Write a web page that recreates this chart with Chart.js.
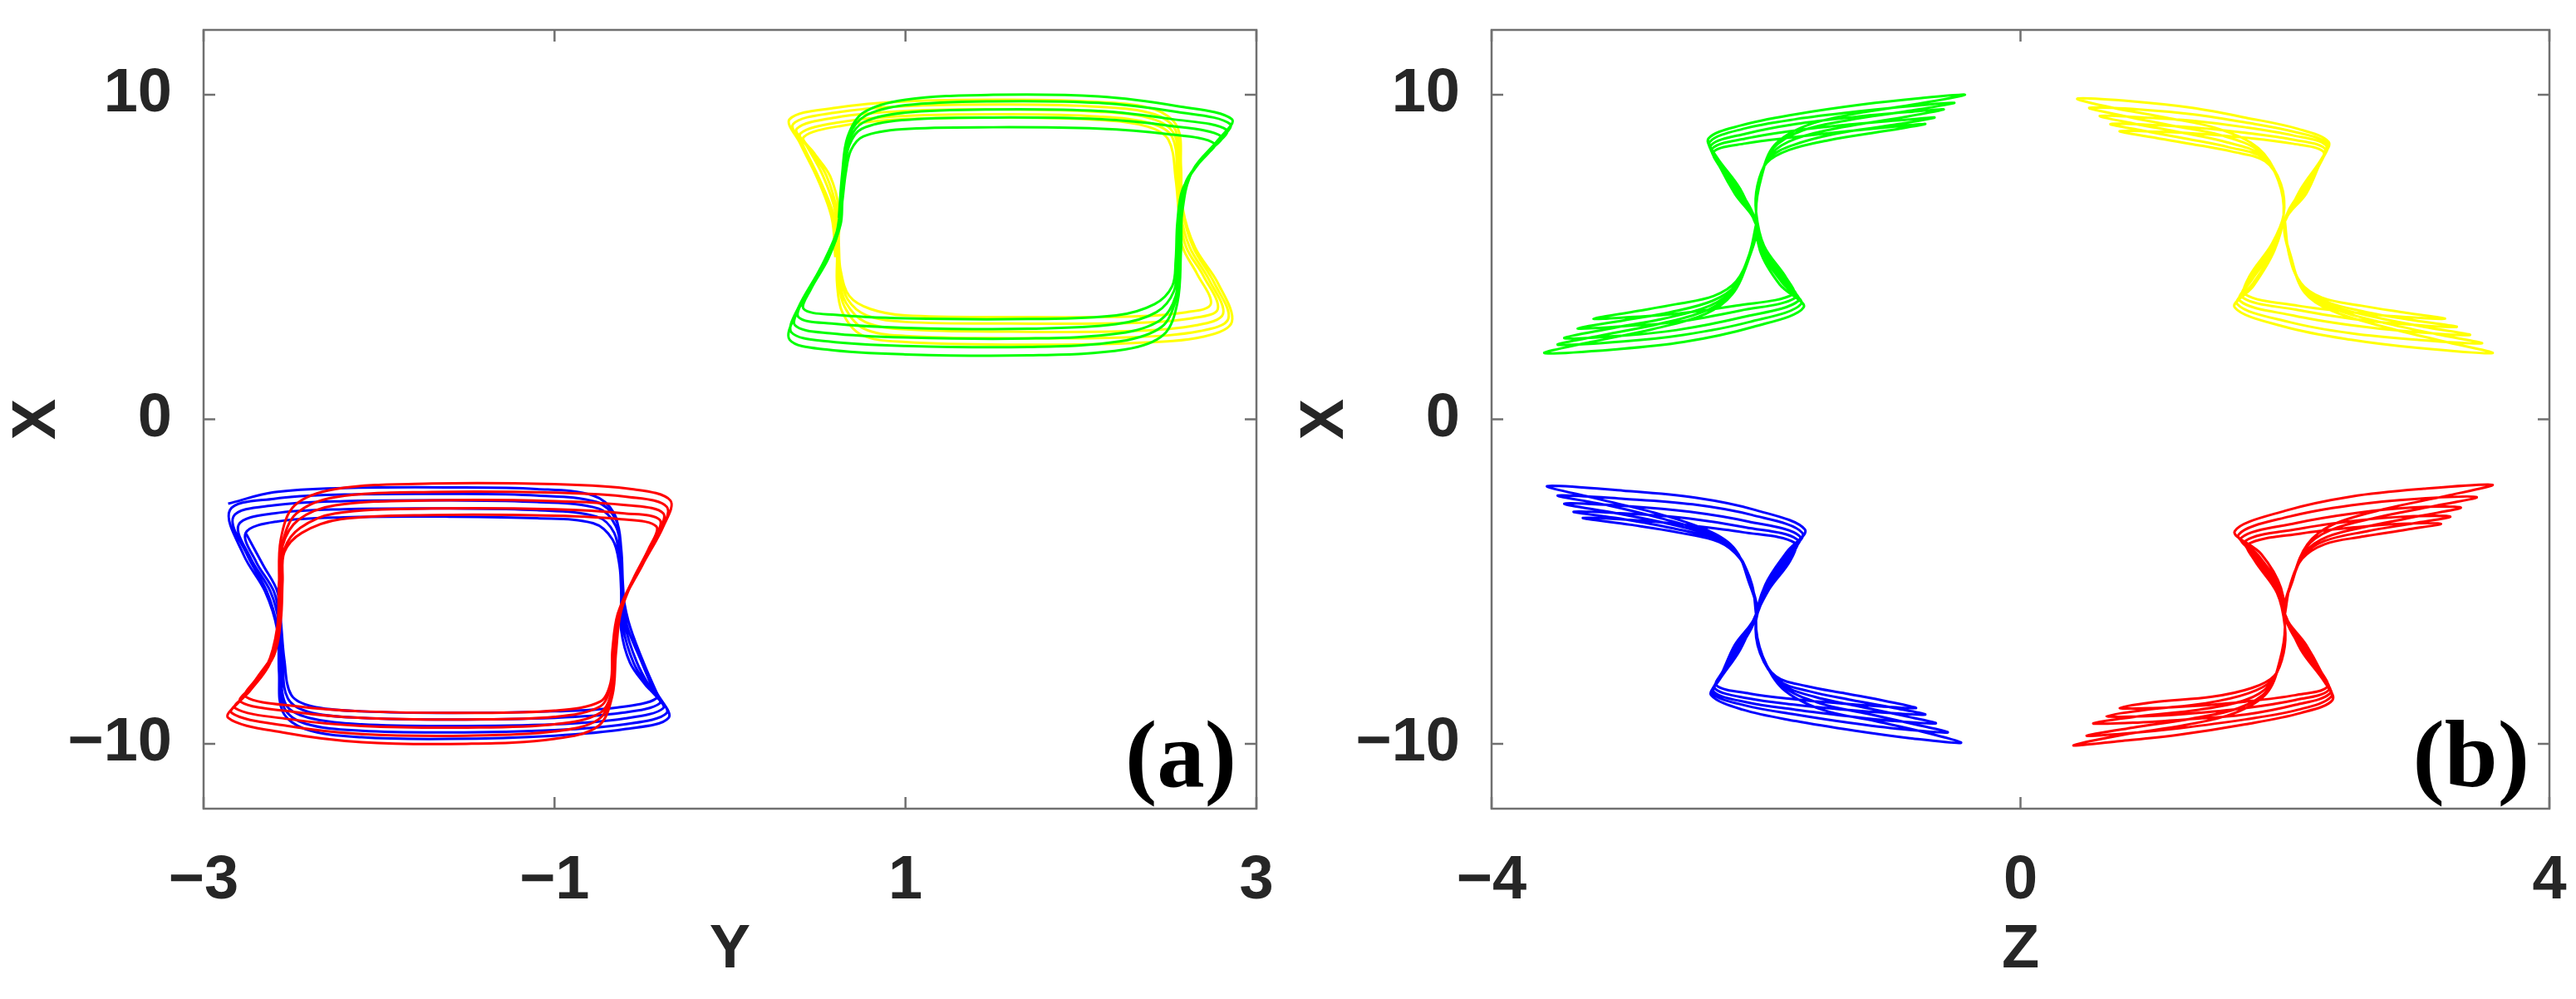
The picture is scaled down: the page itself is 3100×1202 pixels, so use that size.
<!DOCTYPE html>
<html>
<head>
<meta charset="utf-8">
<script src="https://cdn.jsdelivr.net/npm/chart.js@4.4.1/dist/chart.umd.min.js"></script>
<style>
  html, body { margin: 0; padding: 0; background: #fff; }
  #wrap { position: relative; width: 3100px; height: 1202px; }
  .panel { position: absolute; top: 0; width: 1550px; height: 1202px; }
</style>
</head>
<body>
<div id="wrap">
  <div class="panel" style="left:0"><canvas id="chartA" width="1550" height="1202"></canvas></div>
  <div class="panel" style="left:1550px"><canvas id="chartB" width="1550" height="1202"></canvas></div>
</div>
<script>
// tick values
const yTicksA = [-3, -1, 1, 3];
const zTicksB = [-4, 0, 4];
const xTicks = [-10, 0, 10];

// panel (a): pairs are [Y, X], one row per loop of the trajectory
const aGreen = [
  [0.62,6.2],[0.64,7.6],[0.67,8.7],[0.76,9.45],[1.0,9.85],[1.5,10.0],[2.1,9.95],[2.55,9.65],[2.86,9.25],[2.78,8.6],[2.64,7.7],[2.58,6.6],[2.57,5.2],[2.55,3.6],[2.47,2.6],[2.25,2.15],[1.7,1.97],[1.0,2.0],[0.55,2.15],[0.34,2.45],[0.38,3.3],[0.5,4.5],[0.6,5.6],
  [0.63,6.6],[0.65,7.8],[0.68,8.75],[0.77,9.35],[1.0,9.68],[1.5,9.8],[2.1,9.75],[2.55,9.47],[2.85,9.1],[2.77,8.5],[2.63,7.6],[2.58,6.5],[2.56,5.1],[2.54,3.7],[2.46,2.85],[2.22,2.4],[1.7,2.23],[1.0,2.26],[0.56,2.4],[0.35,2.68],[0.39,3.45],[0.51,4.6],[0.61,5.7],
  [0.63,6.6],[0.65,7.7],[0.68,8.6],[0.76,9.15],[1.0,9.45],[1.5,9.55],[2.1,9.5],[2.52,9.25],[2.83,8.92],[2.75,8.35],[2.62,7.5],[2.57,6.4],[2.56,5.0],[2.54,3.8],[2.45,3.05],[2.22,2.65],[1.7,2.49],[1.0,2.52],[0.57,2.65],[0.37,2.9],[0.41,3.6],[0.52,4.7],[0.61,5.8],
  [0.63,6.6],[0.65,7.6],[0.68,8.45],[0.75,8.95],[0.98,9.22],[1.5,9.3],[2.1,9.25],[2.5,9.05],[2.8,8.72],[2.72,8.2],[2.6,7.35],[2.56,6.3],[2.55,4.9],[2.53,3.95],[2.43,3.3],[2.2,2.93],[1.7,2.79],[1.0,2.82],[0.58,2.95],[0.39,3.15],[0.43,3.8],[0.54,4.8],[0.62,5.9],
  [0.64,6.7],[0.66,7.6],[0.69,8.3],[0.76,8.72],[0.98,8.94],[1.5,9.0],[2.1,8.96],[2.48,8.8],[2.76,8.5],[2.68,7.95],[2.58,7.1],[2.55,6.1],[2.54,4.9],[2.52,4.1],[2.42,3.55],[2.2,3.2],[1.7,3.09],[1.0,3.11],[0.6,3.22],[0.42,3.4],[0.46,4.0],[0.56,4.95],[0.63,6.0],[0.64,6.7]
];

const aYellow = [
  [0.6,5.0],[0.58,6.2],[0.5,7.4],[0.4,8.5],[0.34,9.25],[0.6,9.6],[1.0,9.8],[1.6,9.85],[2.1,9.78],[2.42,9.55],[2.55,9.0],[2.57,7.8],[2.58,6.5],[2.65,5.3],[2.78,4.2],[2.86,3.0],[2.7,2.55],[2.3,2.35],[1.6,2.3],[1.0,2.38],[0.75,2.6],[0.64,3.3],[0.61,4.2],
  [0.61,5.2],[0.59,6.3],[0.51,7.4],[0.42,8.4],[0.36,9.1],[0.6,9.45],[1.0,9.65],[1.6,9.7],[2.1,9.63],[2.42,9.4],[2.54,8.9],[2.56,7.7],[2.58,6.4],[2.64,5.3],[2.76,4.2],[2.84,3.1],[2.68,2.72],[2.3,2.53],[1.6,2.5],[1.0,2.57],[0.76,2.8],[0.65,3.5],[0.62,4.3],
  [0.61,5.3],[0.6,6.4],[0.53,7.5],[0.44,8.4],[0.38,8.95],[0.6,9.3],[1.0,9.5],[1.6,9.55],[2.1,9.48],[2.4,9.27],[2.53,8.8],[2.56,7.6],[2.57,6.3],[2.62,5.3],[2.73,4.3],[2.81,3.25],[2.66,2.9],[2.3,2.72],[1.6,2.7],[1.0,2.77],[0.77,3.0],[0.66,3.6],[0.62,4.4],
  [0.62,5.3],[0.61,6.4],[0.55,7.5],[0.46,8.3],[0.4,8.8],[0.62,9.15],[1.0,9.35],[1.6,9.4],[2.1,9.33],[2.4,9.12],[2.52,8.7],[2.55,7.5],[2.56,6.3],[2.6,5.3],[2.7,4.4],[2.78,3.4],[2.64,3.12],[2.3,2.97],[1.6,2.95],[1.0,3.0],[0.78,3.2],[0.67,3.7],[0.63,4.5],
  [0.62,5.4],[0.62,6.5],[0.57,7.5],[0.48,8.2],[0.42,8.7],[0.64,9.05],[1.0,9.25],[1.6,9.3],[2.1,9.23],[2.38,9.02],[2.5,8.6],[2.54,7.4],[2.56,6.2],[2.58,5.3],[2.66,4.5],[2.74,3.55],[2.6,3.3],[2.3,3.17],[1.6,3.15],[1.0,3.2],[0.8,3.4],[0.68,3.8],[0.63,4.6],[0.62,5.4]
];

const aRed = [
  [-2.57,-5.2],[-2.56,-3.7],[-2.48,-2.65],[-2.25,-2.15],[-1.7,-1.98],[-1.0,-2.0],[-0.56,-2.15],[-0.34,-2.5],[-0.38,-3.3],[-0.5,-4.5],[-0.62,-5.8],[-0.65,-7.2],[-0.67,-8.5],[-0.75,-9.45],[-1.0,-9.85],[-1.5,-10.0],[-2.1,-9.95],[-2.55,-9.65],[-2.86,-9.2],[-2.78,-8.6],[-2.64,-7.6],[-2.58,-6.4],
  [-2.57,-5.0],[-2.55,-3.8],[-2.47,-2.9],[-2.25,-2.4],[-1.7,-2.24],[-1.0,-2.26],[-0.57,-2.4],[-0.36,-2.7],[-0.4,-3.5],[-0.52,-4.6],[-0.62,-5.9],[-0.65,-7.2],[-0.67,-8.4],[-0.75,-9.25],[-1.0,-9.62],[-1.5,-9.75],[-2.1,-9.7],[-2.52,-9.45],[-2.84,-9.05],[-2.76,-8.5],[-2.63,-7.6],[-2.58,-6.4],
  [-2.56,-5.0],[-2.55,-3.9],[-2.46,-3.1],[-2.25,-2.65],[-1.7,-2.5],[-1.0,-2.52],[-0.58,-2.65],[-0.38,-2.9],[-0.42,-3.6],[-0.53,-4.7],[-0.62,-5.9],[-0.65,-7.1],[-0.67,-8.3],[-0.74,-9.05],[-1.0,-9.4],[-1.5,-9.5],[-2.1,-9.45],[-2.5,-9.25],[-2.82,-8.9],[-2.74,-8.4],[-2.62,-7.5],[-2.57,-6.3],
  [-2.56,-5.0],[-2.54,-4.0],[-2.45,-3.35],[-2.25,-2.9],[-1.7,-2.75],[-1.0,-2.77],[-0.6,-2.9],[-0.4,-3.1],[-0.44,-3.8],[-0.54,-4.8],[-0.63,-6.0],[-0.66,-7.1],[-0.68,-8.2],[-0.74,-8.85],[-1.0,-9.17],[-1.5,-9.25],[-2.1,-9.2],[-2.48,-9.02],[-2.79,-8.7],[-2.72,-8.2],[-2.6,-7.3],[-2.56,-6.2],
  [-2.55,-5.0],[-2.54,-4.1],[-2.44,-3.5],[-2.22,-3.08],[-1.7,-2.95],[-1.0,-2.97],[-0.62,-3.08],[-0.42,-3.3],[-0.46,-3.95],[-0.55,-4.9],[-0.64,-6.0],[-0.67,-7.1],[-0.68,-8.1],[-0.74,-8.7],[-1.0,-8.98],[-1.5,-9.05],[-2.1,-9.0],[-2.46,-8.85],[-2.76,-8.55],[-2.7,-8.0],[-2.59,-7.1],[-2.56,-6.1],[-2.55,-5.0]
];

const aBlue = [
  [-2.86,-2.6],[-2.6,-2.25],[-2.2,-2.12],[-1.6,-2.1],[-1.1,-2.15],[-0.78,-2.35],[-0.66,-2.9],[-0.63,-3.8],[-0.62,-5.0],[-0.58,-6.2],[-0.5,-7.4],[-0.42,-8.4],[-0.35,-9.2],[-0.6,-9.55],[-1.0,-9.75],[-1.6,-9.85],[-2.1,-9.8],[-2.42,-9.55],[-2.55,-9.0],[-2.57,-7.8],[-2.58,-6.5],[-2.65,-5.3],[-2.77,-4.2],
  [-2.85,-2.8],[-2.6,-2.45],[-2.2,-2.32],[-1.6,-2.3],[-1.1,-2.35],[-0.76,-2.55],[-0.65,-3.1],[-0.62,-4.0],[-0.61,-5.1],[-0.59,-6.3],[-0.51,-7.4],[-0.43,-8.4],[-0.36,-9.05],[-0.6,-9.4],[-1.0,-9.58],[-1.6,-9.65],[-2.1,-9.6],[-2.42,-9.38],[-2.54,-8.9],[-2.56,-7.7],[-2.58,-6.4],[-2.64,-5.3],[-2.75,-4.2],
  [-2.83,-3.0],[-2.6,-2.65],[-2.2,-2.52],[-1.6,-2.5],[-1.1,-2.55],[-0.75,-2.75],[-0.65,-3.3],[-0.62,-4.2],[-0.61,-5.2],[-0.6,-6.3],[-0.53,-7.5],[-0.44,-8.4],[-0.38,-8.9],[-0.6,-9.22],[-1.0,-9.4],[-1.6,-9.45],[-2.1,-9.4],[-2.4,-9.2],[-2.53,-8.8],[-2.56,-7.6],[-2.57,-6.3],[-2.62,-5.3],[-2.73,-4.3],
  [-2.8,-3.25],[-2.6,-2.9],[-2.2,-2.77],[-1.6,-2.75],[-1.1,-2.8],[-0.76,-3.0],[-0.66,-3.5],[-0.63,-4.4],[-0.62,-5.3],[-0.61,-6.4],[-0.55,-7.5],[-0.46,-8.3],[-0.4,-8.75],[-0.62,-9.05],[-1.0,-9.2],[-1.6,-9.25],[-2.1,-9.2],[-2.4,-9.02],[-2.52,-8.6],[-2.55,-7.5],[-2.56,-6.3],[-2.6,-5.3],[-2.7,-4.4],
  [-2.76,-3.5],[-2.58,-3.15],[-2.2,-3.02],[-1.6,-3.0],[-1.1,-3.05],[-0.78,-3.2],[-0.67,-3.7],[-0.63,-4.5],[-0.62,-5.4],[-0.62,-6.5],[-0.57,-7.5],[-0.48,-8.2],[-0.42,-8.6],[-0.64,-8.88],[-1.0,-9.0],[-1.6,-9.05],[-2.1,-9.0],[-2.38,-8.85],[-2.5,-8.5],[-2.54,-7.4],[-2.56,-6.2],[-2.58,-5.3],[-2.66,-4.5],[-2.76,-3.5]
];

// panel (b): pairs are [Z, X]
const bGreen = [
  [-2.0,6.0],[-2.12,7.1],[-2.3,8.1],[-2.36,8.65],[-2.12,9.05],[-1.7,9.4],[-1.2,9.7],[-0.75,9.9],[-0.42,10.0],[-0.78,9.72],[-1.25,9.42],[-1.62,9.05],[-1.86,8.45],[-1.96,7.5],[-2.0,6.4],[-1.97,5.2],[-1.82,4.15],[-1.64,3.45],[-2.02,2.85],[-2.55,2.38],[-3.05,2.16],[-3.6,2.04],[-3.25,2.38],[-2.78,2.78],[-2.38,3.25],[-2.18,3.85],[-2.06,4.9],
  [-2.0,6.0],[-2.13,7.1],[-2.3,8.05],[-2.35,8.55],[-2.1,8.95],[-1.7,9.25],[-1.2,9.5],[-0.8,9.66],[-0.5,9.75],[-0.85,9.5],[-1.3,9.22],[-1.65,8.9],[-1.87,8.35],[-1.96,7.45],[-2.0,6.4],[-1.96,5.2],[-1.8,4.2],[-1.66,3.55],[-2.05,3.0],[-2.55,2.6],[-3.0,2.4],[-3.5,2.3],[-3.15,2.6],[-2.72,2.95],[-2.36,3.38],[-2.17,3.95],[-2.06,4.95],
  [-2.0,6.0],[-2.14,7.05],[-2.29,7.95],[-2.34,8.45],[-2.08,8.8],[-1.7,9.1],[-1.25,9.32],[-0.85,9.47],[-0.58,9.55],[-0.9,9.3],[-1.35,9.0],[-1.7,8.65],[-1.88,8.2],[-1.97,7.4],[-2.0,6.4],[-1.95,5.25],[-1.79,4.25],[-1.68,3.65],[-2.1,3.15],[-2.6,2.75],[-3.0,2.58],[-3.45,2.5],[-3.1,2.8],[-2.7,3.1],[-2.35,3.5],[-2.16,4.05],[-2.05,5.0],
  [-2.0,6.0],[-2.15,7.0],[-2.28,7.85],[-2.33,8.35],[-2.08,8.65],[-1.7,8.9],[-1.25,9.1],[-0.9,9.22],[-0.65,9.3],[-0.95,9.08],[-1.4,8.8],[-1.72,8.45],[-1.9,8.05],[-1.98,7.3],[-2.0,6.4],[-1.95,5.3],[-1.78,4.3],[-1.7,3.75],[-2.12,3.35],[-2.6,3.0],[-3.0,2.87],[-3.35,2.8],[-3.0,3.05],[-2.65,3.3],[-2.33,3.65],[-2.15,4.15],[-2.05,5.05],
  [-2.0,6.0],[-2.16,6.95],[-2.27,7.75],[-2.32,8.25],[-2.08,8.5],[-1.7,8.7],[-1.3,8.88],[-0.95,9.02],[-0.72,9.1],[-1.0,8.9],[-1.45,8.6],[-1.75,8.3],[-1.92,7.9],[-1.99,7.2],[-2.0,6.4],[-1.94,5.35],[-1.77,4.35],[-1.72,3.85],[-2.15,3.5],[-2.6,3.25],[-2.95,3.15],[-3.23,3.1],[-2.95,3.3],[-2.6,3.55],[-2.32,3.8],[-2.15,4.25],[-2.05,5.1],[-2.0,6.0]
];

const bYellow = [
  [2.0,6.1],[2.12,7.1],[2.28,8.05],[2.33,8.55],[2.1,8.95],[1.7,9.3],[1.3,9.6],[0.85,9.8],[0.43,9.88],[0.7,9.6],[1.1,9.3],[1.5,8.95],[1.8,8.35],[1.95,7.4],[1.99,6.3],[1.92,5.2],[1.76,4.1],[1.62,3.45],[2.0,2.85],[2.5,2.45],[3.0,2.2],[3.57,2.04],[3.2,2.4],[2.75,2.85],[2.35,3.35],[2.15,3.9],[2.05,4.9],
  [2.0,6.1],[2.13,7.1],[2.28,8.0],[2.32,8.5],[2.08,8.85],[1.7,9.15],[1.3,9.4],[0.9,9.55],[0.52,9.6],[0.78,9.35],[1.15,9.05],[1.52,8.75],[1.81,8.25],[1.95,7.35],[1.99,6.3],[1.92,5.25],[1.76,4.2],[1.64,3.55],[2.03,3.0],[2.5,2.65],[3.0,2.45],[3.49,2.34],[3.15,2.62],[2.72,3.0],[2.34,3.45],[2.14,4.0],[2.05,4.95],
  [2.0,6.1],[2.14,7.05],[2.27,7.95],[2.31,8.45],[2.06,8.75],[1.7,9.0],[1.3,9.2],[0.95,9.3],[0.6,9.35],[0.85,9.12],[1.2,8.85],[1.55,8.55],[1.82,8.15],[1.96,7.3],[1.99,6.3],[1.92,5.3],[1.75,4.3],[1.66,3.65],[2.06,3.2],[2.5,2.9],[2.95,2.7],[3.4,2.6],[3.05,2.85],[2.68,3.15],[2.32,3.55],[2.13,4.1],[2.04,5.0],
  [2.0,6.1],[2.15,7.0],[2.26,7.85],[2.3,8.35],[2.06,8.62],[1.7,8.83],[1.3,9.0],[1.0,9.07],[0.68,9.1],[0.92,8.9],[1.25,8.65],[1.58,8.38],[1.84,8.05],[1.97,7.25],[1.99,6.3],[1.91,5.35],[1.74,4.35],[1.68,3.75],[2.08,3.38],[2.5,3.1],[2.9,2.93],[3.3,2.85],[2.98,3.05],[2.62,3.3],[2.3,3.65],[2.12,4.2],[2.04,5.05],
  [2.0,6.1],[2.16,6.95],[2.25,7.75],[2.29,8.25],[2.05,8.5],[1.7,8.68],[1.35,8.8],[1.05,8.86],[0.75,8.88],[0.98,8.7],[1.3,8.48],[1.6,8.25],[1.85,7.95],[1.97,7.2],[1.99,6.3],[1.9,5.4],[1.73,4.4],[1.7,3.85],[2.1,3.5],[2.5,3.3],[2.85,3.17],[3.21,3.1],[2.92,3.28],[2.58,3.5],[2.28,3.75],[2.11,4.25],[2.03,5.1],[2.0,6.1]
];

const bBlue = [
  [-2.0,-6.0],[-2.12,-7.1],[-2.28,-8.05],[-2.34,-8.5],[-2.1,-8.95],[-1.7,-9.3],[-1.25,-9.6],[-0.85,-9.82],[-0.45,-9.97],[-0.72,-9.65],[-1.1,-9.3],[-1.5,-8.95],[-1.8,-8.3],[-1.95,-7.3],[-2.0,-6.2],[-1.93,-5.1],[-1.77,-4.1],[-1.63,-3.4],[-2.0,-2.8],[-2.45,-2.42],[-3.0,-2.2],[-3.58,-2.06],[-3.2,-2.45],[-2.75,-2.9],[-2.38,-3.4],[-2.17,-3.95],[-2.06,-4.9],
  [-2.0,-6.0],[-2.13,-7.1],[-2.28,-8.0],[-2.33,-8.45],[-2.08,-8.82],[-1.7,-9.1],[-1.3,-9.35],[-0.9,-9.55],[-0.55,-9.65],[-0.8,-9.4],[-1.15,-9.08],[-1.52,-8.75],[-1.8,-8.22],[-1.95,-7.3],[-2.0,-6.2],[-1.93,-5.15],[-1.77,-4.2],[-1.65,-3.5],[-2.03,-2.95],[-2.48,-2.62],[-3.0,-2.45],[-3.5,-2.35],[-3.12,-2.65],[-2.72,-3.05],[-2.36,-3.5],[-2.16,-4.0],[-2.06,-4.95],
  [-2.0,-6.0],[-2.14,-7.05],[-2.27,-7.95],[-2.32,-8.4],[-2.07,-8.72],[-1.7,-8.95],[-1.3,-9.15],[-0.95,-9.3],[-0.64,-9.37],[-0.88,-9.14],[-1.22,-8.85],[-1.56,-8.55],[-1.81,-8.15],[-1.96,-7.25],[-2.0,-6.2],[-1.92,-5.2],[-1.76,-4.25],[-1.67,-3.6],[-2.06,-3.15],[-2.5,-2.85],[-2.95,-2.68],[-3.45,-2.6],[-3.05,-2.9],[-2.68,-3.2],[-2.33,-3.6],[-2.15,-4.1],[-2.05,-5.0],
  [-2.0,-6.0],[-2.15,-7.0],[-2.26,-7.85],[-2.31,-8.3],[-2.06,-8.6],[-1.7,-8.8],[-1.3,-8.96],[-1.0,-9.05],[-0.72,-9.1],[-0.95,-8.9],[-1.28,-8.65],[-1.6,-8.38],[-1.83,-8.05],[-1.97,-7.2],[-2.0,-6.2],[-1.92,-5.25],[-1.75,-4.3],[-1.69,-3.7],[-2.08,-3.33],[-2.5,-3.06],[-2.92,-2.92],[-3.38,-2.85],[-3.0,-3.08],[-2.64,-3.35],[-2.3,-3.7],[-2.13,-4.2],[-2.04,-5.05],
  [-2.0,-6.0],[-2.16,-6.95],[-2.25,-7.75],[-2.3,-8.2],[-2.05,-8.45],[-1.7,-8.63],[-1.35,-8.76],[-1.05,-8.85],[-0.79,-8.9],[-1.0,-8.7],[-1.32,-8.45],[-1.62,-8.22],[-1.85,-7.92],[-1.97,-7.15],[-2.0,-6.2],[-1.91,-5.3],[-1.74,-4.35],[-1.71,-3.8],[-2.1,-3.48],[-2.5,-3.27],[-2.88,-3.12],[-3.31,-3.04],[-2.95,-3.25],[-2.6,-3.48],[-2.28,-3.78],[-2.12,-4.3],[-2.03,-5.1],[-2.0,-6.0]
];

const bRed = [
  [2.0,-6.0],[2.12,-7.1],[2.3,-8.1],[2.36,-8.65],[2.12,-9.05],[1.7,-9.4],[1.2,-9.72],[0.75,-9.92],[0.4,-10.05],[0.78,-9.72],[1.25,-9.42],[1.62,-9.05],[1.86,-8.45],[1.96,-7.5],[2.0,-6.4],[1.97,-5.2],[1.82,-4.15],[1.62,-3.45],[2.0,-2.82],[2.5,-2.38],[3.05,-2.14],[3.57,-2.02],[3.22,-2.36],[2.76,-2.76],[2.36,-3.25],[2.17,-3.85],[2.06,-4.9],
  [2.0,-6.0],[2.13,-7.1],[2.3,-8.05],[2.35,-8.55],[2.1,-8.95],[1.7,-9.25],[1.2,-9.52],[0.8,-9.68],[0.5,-9.75],[0.85,-9.5],[1.3,-9.22],[1.65,-8.9],[1.87,-8.35],[1.96,-7.45],[2.0,-6.4],[1.96,-5.2],[1.8,-4.2],[1.65,-3.55],[2.03,-3.0],[2.5,-2.65],[3.0,-2.45],[3.45,-2.4],[3.12,-2.68],[2.7,-3.02],[2.34,-3.42],[2.16,-3.95],[2.06,-4.95],
  [2.0,-6.0],[2.14,-7.05],[2.29,-7.95],[2.34,-8.45],[2.08,-8.8],[1.7,-9.1],[1.25,-9.25],[0.85,-9.35],[0.55,-9.37],[0.9,-9.15],[1.35,-8.95],[1.7,-8.65],[1.88,-8.2],[1.97,-7.4],[2.0,-6.4],[1.95,-5.25],[1.79,-4.25],[1.67,-3.65],[2.08,-3.2],[2.55,-2.88],[2.95,-2.72],[3.33,-2.72],[3.02,-2.98],[2.65,-3.28],[2.32,-3.62],[2.15,-4.1],[2.05,-5.0],
  [2.0,-6.0],[2.15,-7.0],[2.28,-7.85],[2.33,-8.35],[2.08,-8.65],[1.7,-8.9],[1.25,-9.08],[0.95,-9.15],[0.65,-9.15],[0.95,-8.95],[1.4,-8.75],[1.72,-8.45],[1.9,-8.05],[1.98,-7.3],[2.0,-6.4],[1.95,-5.3],[1.78,-4.3],[1.7,-3.75],[2.1,-3.38],[2.55,-3.12],[2.9,-3.0],[3.25,-3.0],[2.98,-3.2],[2.62,-3.45],[2.3,-3.75],[2.14,-4.2],[2.05,-5.05],
  [2.0,-6.0],[2.16,-6.95],[2.27,-7.75],[2.32,-8.25],[2.08,-8.5],[1.7,-8.7],[1.3,-8.84],[1.0,-8.9],[0.75,-8.9],[1.0,-8.72],[1.45,-8.55],[1.75,-8.28],[1.92,-7.9],[1.99,-7.2],[2.0,-6.4],[1.94,-5.35],[1.77,-4.35],[1.72,-3.85],[2.12,-3.52],[2.55,-3.32],[2.88,-3.22],[3.18,-3.22],[2.92,-3.4],[2.58,-3.62],[2.3,-3.85],[2.13,-4.3],[2.04,-5.1],[2.0,-6.0]
];

const textColor = '#262626';
const frameColor = '#707070';
const tickFont = { family: '"Liberation Sans", Arial, sans-serif', size: 74, weight: 'bold' };

const minus = v => (v < 0 ? '\u2212' + Math.abs(v) : String(v));
const toPts = arr => arr.map(p => ({ x: p[0], y: p[1] }));

function trace(arr, color, order) {
  return {
    data: toPts(arr),
    showLine: true,
    borderColor: color,
    borderWidth: 3,
    pointRadius: 0,
    tension: 0.35,
    fill: false,
    order: order
  };
}

// MATLAB style box: frame, inward ticks on all four sides, panel letter
const boxPlugin = {
  id: 'matlabBox',
  afterDatasetsDraw(chart, args, opts) {
    const { ctx, chartArea: a, scales: { x, y } } = chart;
    const len = 14;
    ctx.save();
    ctx.strokeStyle = frameColor;
    ctx.lineWidth = 2.5;
    ctx.strokeRect(a.left, a.top, a.right - a.left, a.bottom - a.top);
    ctx.beginPath();
    x.ticks.forEach(t => {
      const px = x.getPixelForValue(t.value);
      ctx.moveTo(px, a.bottom); ctx.lineTo(px, a.bottom - len);
      ctx.moveTo(px, a.top); ctx.lineTo(px, a.top + len);
    });
    y.ticks.forEach(t => {
      const py = y.getPixelForValue(t.value);
      ctx.moveTo(a.left, py); ctx.lineTo(a.left + len, py);
      ctx.moveTo(a.right, py); ctx.lineTo(a.right - len, py);
    });
    ctx.stroke();
    ctx.font = 'bold 115px "Liberation Serif", "Times New Roman", serif';
    ctx.fillStyle = '#000';
    ctx.textAlign = 'right';
    ctx.textBaseline = 'alphabetic';
    ctx.fillText(opts.label, a.right - 24, a.bottom - 27);
    ctx.restore();
  }
};

function makeChart(id, datasets, hTicks, hMin, hMax, hTitle, label, padRight) {
  return new Chart(document.getElementById(id), {
    type: 'scatter',
    data: { datasets: datasets },
    plugins: [boxPlugin],
    options: {
      responsive: false,
      animation: false,
      devicePixelRatio: 1,
      layout: { padding: { left: 0, right: padRight, top: 36, bottom: 0 } },
      plugins: {
        legend: { display: false },
        tooltip: { enabled: false },
        matlabBox: { label: label }
      },
      scales: {
        x: {
          type: 'linear',
          min: hMin,
          max: hMax,
          afterBuildTicks: s => { s.ticks = hTicks.map(v => ({ value: v })); },
          afterFit: s => { s.height = 229; s.paddingLeft = 0; s.paddingRight = 0; },
          grid: { display: false },
          border: { display: false },
          ticks: { font: tickFont, color: textColor, padding: 35, maxRotation: 0, autoSkip: false, callback: minus },
          title: { display: true, text: hTitle, font: tickFont, color: textColor, padding: { top: 0, bottom: 14 } }
        },
        y: {
          type: 'linear',
          min: -12,
          max: 12,
          afterBuildTicks: s => { s.ticks = xTicks.map(v => ({ value: v })); },
          afterFit: s => { s.width = 245; s.paddingTop = 0; s.paddingBottom = 0; },
          grid: { display: false },
          border: { display: false },
          ticks: { font: tickFont, color: textColor, padding: 30, autoSkip: false, callback: minus },
          title: { display: true, text: 'X', font: tickFont, color: textColor, padding: { top: 1, bottom: 0 } }
        }
      }
    }
  });
}

makeChart('chartA', [
  trace(aGreen, '#00ff00', 0),
  trace(aYellow, '#ffff00', 1),
  trace(aRed, '#ff0000', 0),
  trace(aBlue, '#0000ff', 1)
], yTicksA, -3, 3, 'Y', '(a)', 38);

makeChart('chartB', [
  trace(bGreen, '#00ff00', 0),
  trace(bYellow, '#ffff00', 0),
  trace(bBlue, '#0000ff', 0),
  trace(bRed, '#ff0000', 0)
], zTicksB, -4, 4, 'Z', '(b)', 32);
</script>
</body>
</html>
